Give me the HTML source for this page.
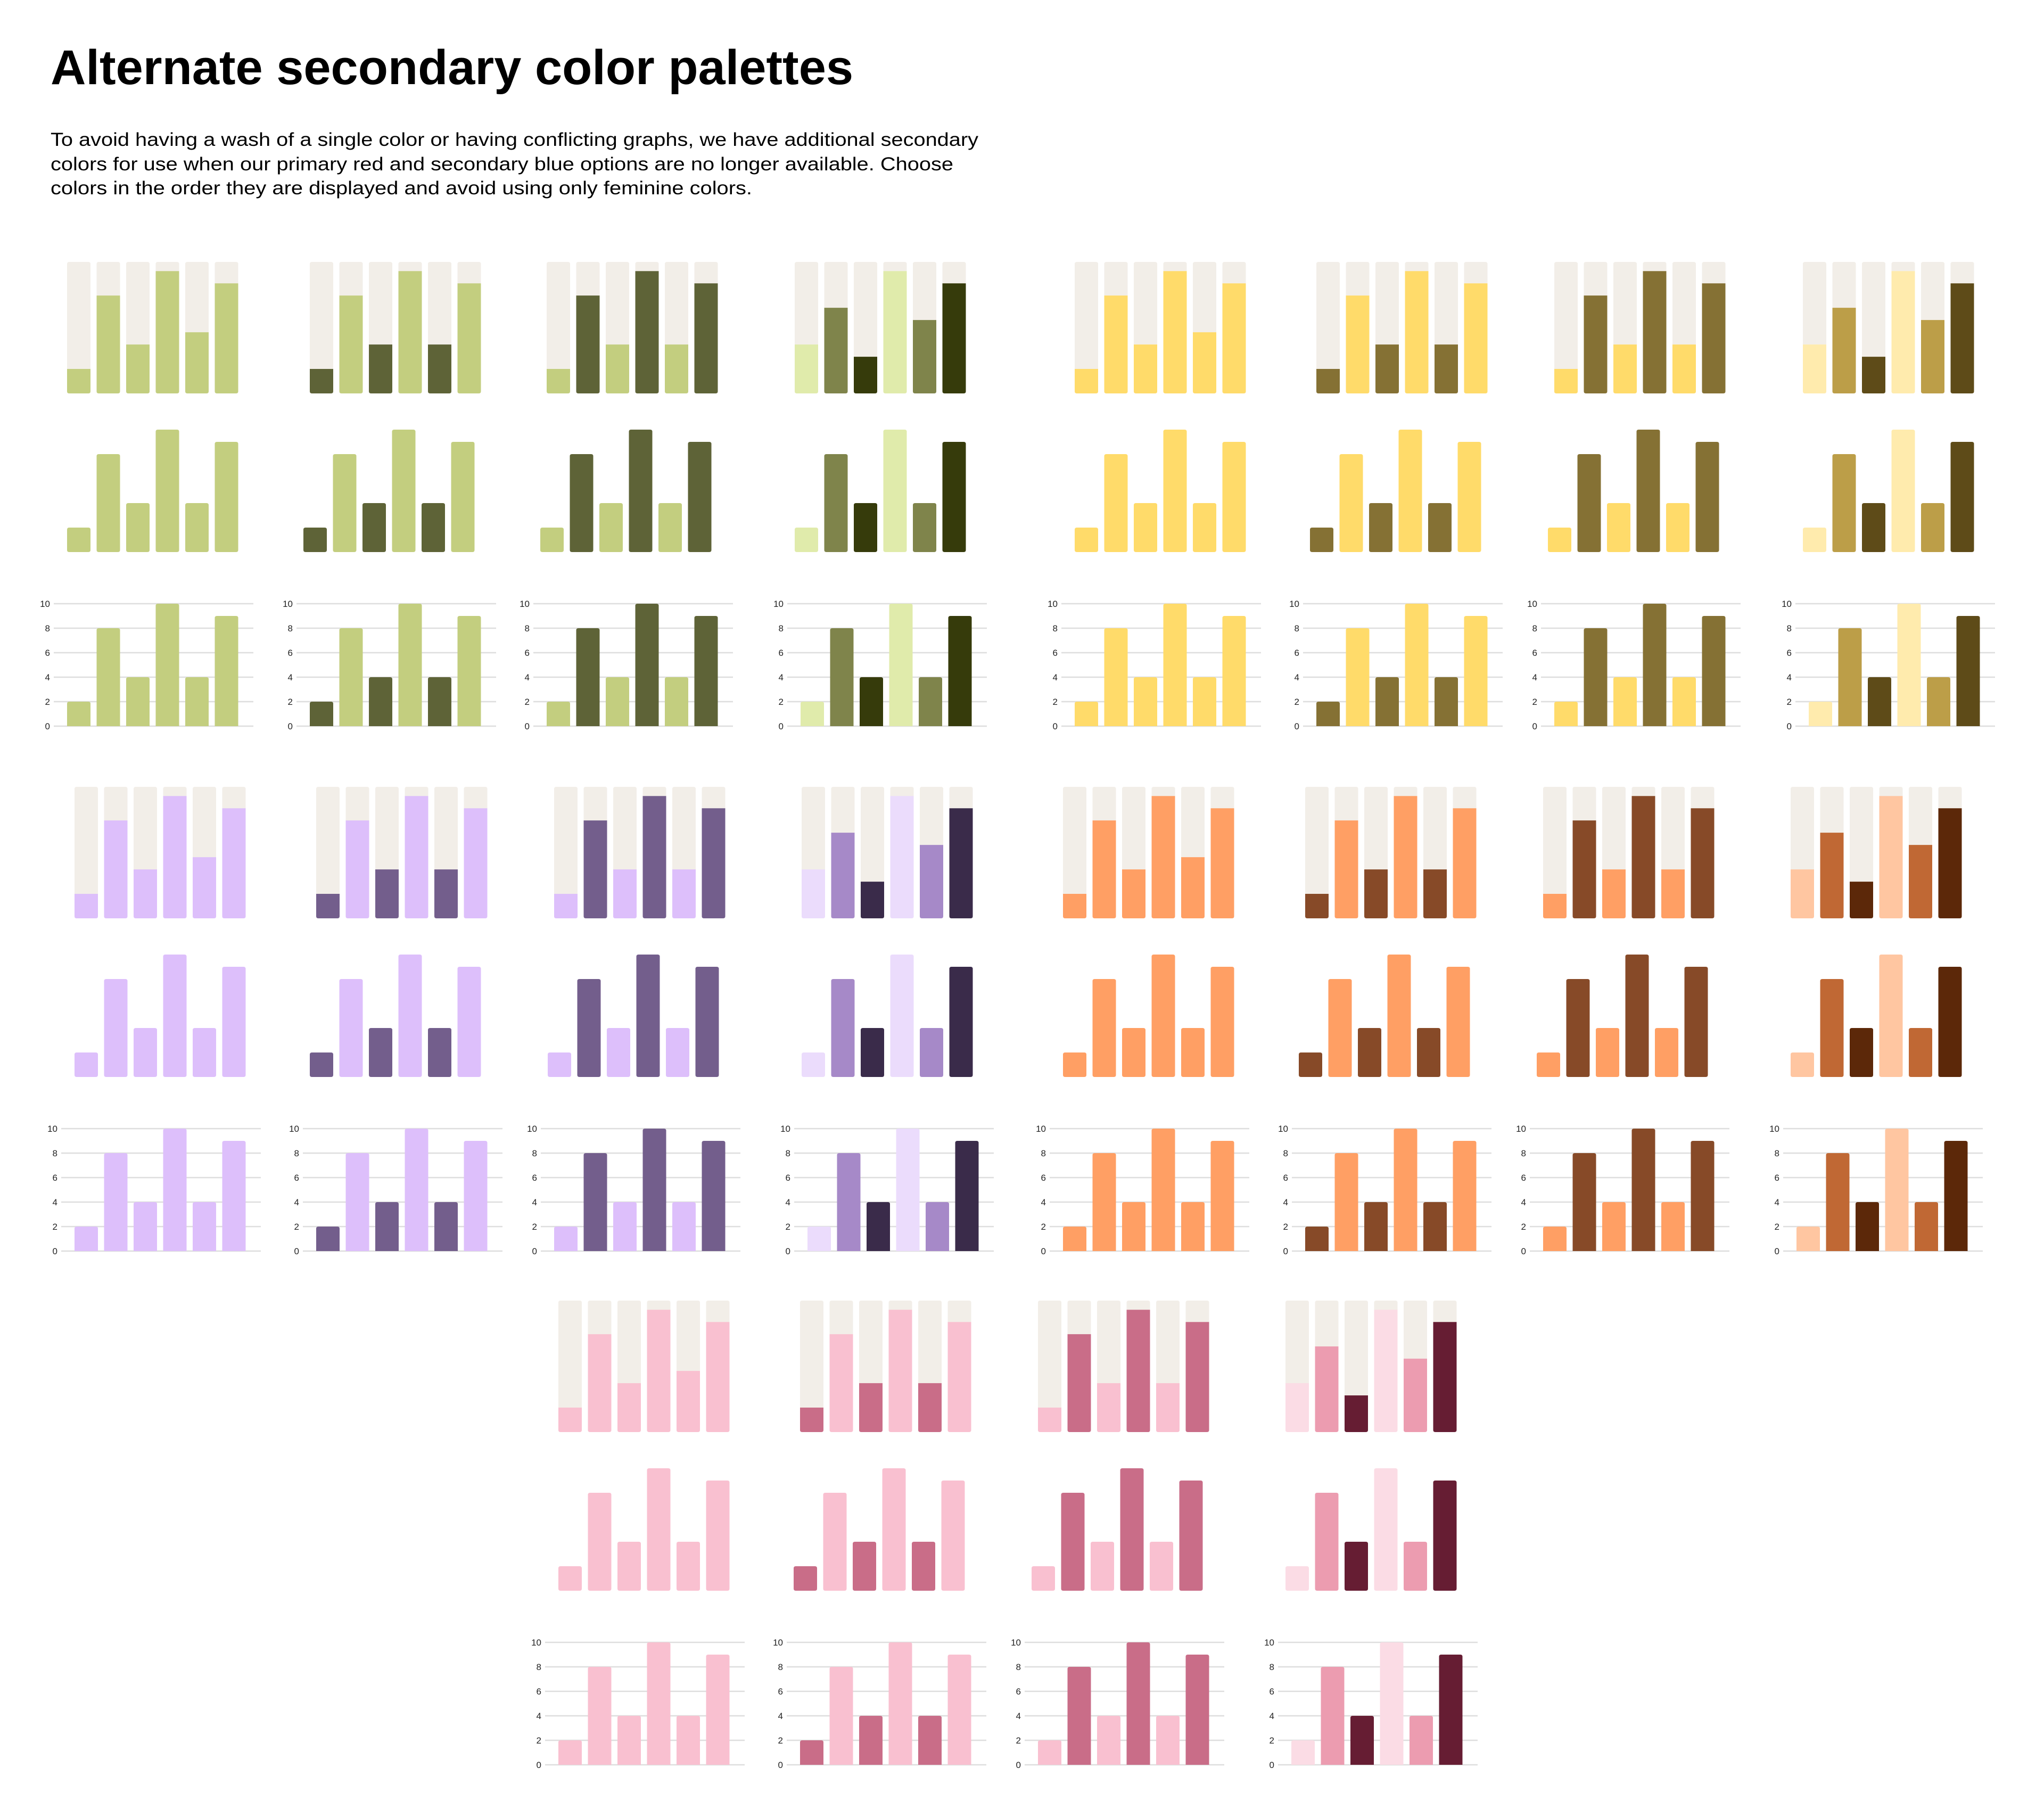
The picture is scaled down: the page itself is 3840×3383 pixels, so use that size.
<!DOCTYPE html>
<html>
<head>
<meta charset="utf-8">
<style>
  html, body { margin: 0; padding: 0; background: #ffffff; }
  body { width: 3840px; height: 3383px; overflow: hidden; }
  svg { display: block; }
</style>
</head>
<body>
<svg id="chart" width="3840" height="3383" viewBox="0 0 3840 3383" xmlns="http://www.w3.org/2000/svg">
  <rect width="3840" height="3383" fill="#ffffff"/>
  <text x="95" y="158" font-family="'Liberation Sans', sans-serif" font-weight="700" font-size="92" fill="#000" textLength="1508" lengthAdjust="spacingAndGlyphs">Alternate secondary color palettes</text>
  <g font-family="'Liberation Sans', sans-serif" font-size="35" fill="#000">
    <text x="95" y="274" textLength="1743" lengthAdjust="spacingAndGlyphs">To avoid having a wash of a single color or having conflicting graphs, we have additional secondary</text>
    <text x="95" y="320" textLength="1696" lengthAdjust="spacingAndGlyphs">colors for use when our primary red and secondary blue options are no longer available. Choose</text>
    <text x="95" y="365" textLength="1318" lengthAdjust="spacingAndGlyphs">colors in the order they are displayed and avoid using only feminine colors.</text>
  </g>
  <g id="charts"></g>
</svg>
<script>
// ---- data ----
const categories = ['A', 'B', 'C', 'D', 'E', 'F'];
const stackedValuesFirst = [2, 8, 4, 10, 5, 9];
const stackedValuesAlternating = [2, 8, 4, 10, 4, 9];
const stackedValuesGradient = [4, 7, 3, 10, 6, 9];
const barValues = [2, 8, 4, 10, 4, 9];
const tickValues = [0, 2, 4, 6, 8, 10];
const stackMax = 10.75;
const axisMax = 10;

const paletteNames = ['green', 'yellow', 'purple', 'orange', 'pink'];
const lightColors = ['#c3ce7f', '#ffdb6a', '#ddbffb', '#ff9f64', '#f9c0d0'];
const darkColors = ['#5e6337', '#857134', '#735e8c', '#874a28', '#c96d88'];
const lightestColors = ['#e0ebab', '#ffebad', '#ebdcfc', '#ffc6a1', '#fbdce5'];
const midColors = ['#7f844b', '#bc9e48', '#a689c8', '#c06834', '#ec9cb0'];
const darkestColors = ['#363b0b', '#5e4b18', '#3a2b4a', '#5c2809', '#661d33'];
const trackColor = '#f2eee8';

// ---- layout ----
const gridLefts = [
  [101, 557, 1002, 1479],
  [1994, 2448, 2895, 3373],
  [115, 569, 1016, 1492],
  [1972, 2427, 2874, 3350],
  [1024, 1478, 1925, 2401]
];
const sectionDy = [0, 0, 986, 986, 1951];
const BAR_W = 44, STEP = 55.5, BAR_OFF = 25, GRID_W = 375, R = 4;
const UNIT = 23;
const STACK_BOTTOM = 739, STACK_H = 247;
const PLAIN_BASE = 1037;
const AXIS_BASE = 1364;

function yScale(v) { return v * UNIT; }

const NS = 'http://www.w3.org/2000/svg';
const root = document.getElementById('charts');

function mk(tag, attrs, parent) {
  const el = document.createElementNS(NS, tag);
  for (const k in attrs) el.setAttribute(k, attrs[k]);
  parent.appendChild(el);
  return el;
}

function bottomRoundedPath(x, yTop, w, h, r) {
  const yb = yTop + h;
  const rr = Math.min(r, h / 2);
  return 'M' + x + ',' + yTop + ' H' + (x + w) + ' V' + (yb - rr) +
    ' Q' + (x + w) + ',' + yb + ' ' + (x + w - rr) + ',' + yb +
    ' H' + (x + rr) + ' Q' + x + ',' + yb + ' ' + x + ',' + (yb - rr) + ' Z';
}
function topRoundedPath(x, yTop, w, h, r) {
  const yb = yTop + h;
  const rr = Math.min(r, h / 2);
  return 'M' + x + ',' + yb + ' V' + (yTop + rr) +
    ' Q' + x + ',' + yTop + ' ' + (x + rr) + ',' + yTop +
    ' H' + (x + w - rr) + ' Q' + (x + w) + ',' + yTop + ' ' + (x + w) + ',' + (yTop + rr) +
    ' V' + yb + ' Z';
}
function fullRoundedPath(x, yTop, w, h, r) {
  const yb = yTop + h;
  return 'M' + (x + r) + ',' + yTop + ' H' + (x + w - r) +
    ' Q' + (x + w) + ',' + yTop + ' ' + (x + w) + ',' + (yTop + r) +
    ' V' + (yb - r) + ' Q' + (x + w) + ',' + yb + ' ' + (x + w - r) + ',' + yb +
    ' H' + (x + r) + ' Q' + x + ',' + yb + ' ' + x + ',' + (yb - r) +
    ' V' + (yTop + r) + ' Q' + x + ',' + yTop + ' ' + (x + r) + ',' + yTop + ' Z';
}

function colorsFor(p, variant) {
  const L = lightColors[p], D = darkColors[p];
  if (variant === 0) return [L, L, L, L, L, L];
  if (variant === 1) return [D, L, D, L, D, L];
  if (variant === 2) return [L, D, L, D, L, D];
  return [lightestColors[p], midColors[p], darkestColors[p], lightestColors[p], midColors[p], darkestColors[p]];
}
function stackedFor(variant) {
  if (variant === 0) return stackedValuesFirst;
  if (variant === 3) return stackedValuesGradient;
  return stackedValuesAlternating;
}
function rowOffset(variant, row) {
  if (variant === 1 || variant === 2) return row === 1 ? -12 : 0;
  if (variant === 3) return row === 2 ? 0 : -11;
  return 0;
}

for (let p = 0; p < paletteNames.length; p++) {
  const dy = sectionDy[p];
  const sec = mk('g', {}, root);
  
  
  for (let v = 0; v < 4; v++) {
    const gl = gridLefts[p][v];
    const cols = colorsFor(p, v);

    const g1 = mk('g', {}, sec);
    
    
    const sv = stackedFor(v);
    const x1 = gl + BAR_OFF + rowOffset(v, 0);
    const sb = STACK_BOTTOM + dy;
    for (let i = 0; i < categories.length; i++) {
      const x = x1 + i * STEP;
      const track = mk('path', { d: fullRoundedPath(x, sb - STACK_H, BAR_W, STACK_H, R), fill: trackColor }, g1);
      
      
      const h = STACK_H * sv[i] / stackMax;
      const bar = mk('path', { d: bottomRoundedPath(x, sb - h, BAR_W, h, R), fill: cols[i] }, g1);
      
      
    }

    const g2 = mk('g', {}, sec);
    
    
    const x2 = gl + BAR_OFF + rowOffset(v, 1);
    const pb = PLAIN_BASE + dy;
    for (let i = 0; i < categories.length; i++) {
      const h = yScale(barValues[i]);
      const bar = mk('path', { d: fullRoundedPath(x2 + i * STEP, pb - h, BAR_W, h, R), fill: cols[i] }, g2);
      
      
    }

    const g3 = mk('g', {}, sec);
    
    
    const ab = AXIS_BASE + dy;
    for (let t = 0; t < tickValues.length; t++) {
      const y = ab - yScale(tickValues[t]);
      const line = mk('line', { x1: gl, x2: gl + GRID_W, y1: y, y2: y, stroke: '#dedede', 'stroke-width': 2.5 }, g3);
      
      
      const lbl = mk('text', { x: gl - 7, y: y + 6, 'text-anchor': 'end', 'font-family': "'Liberation Sans', sans-serif", 'font-size': 17, fill: '#222' }, g3);
      lbl.textContent = String(tickValues[t]);
      
      
    }
    const x3 = gl + BAR_OFF + rowOffset(v, 2);
    for (let i = 0; i < categories.length; i++) {
      const h = yScale(barValues[i]);
      const bar = mk('path', { d: topRoundedPath(x3 + i * STEP, ab - h, BAR_W, h, R), fill: cols[i] }, g3);
      
      
    }
  }
}
</script>
</body>
</html>
